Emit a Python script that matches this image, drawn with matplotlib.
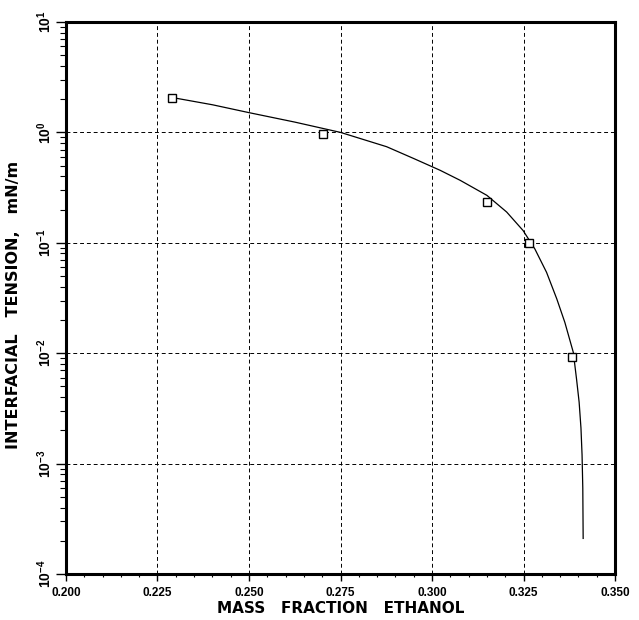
import matplotlib
matplotlib.use("Agg")
import matplotlib.pyplot as plt
from matplotlib.ticker import FixedLocator, FixedFormatter, NullFormatter

# Measured data points
x_pts = [0.229, 0.2702, 0.315, 0.3265, 0.3383]
y_pts = [2.07, 0.96, 0.232, 0.099, 0.0092]

# Fitted curve
x_fit = [0.2290, 0.2400, 0.2500, 0.2625, 0.2750, 0.2876, 0.2950, 0.3022,
         0.3077, 0.3150, 0.3204, 0.3249, 0.3281, 0.3313, 0.3341, 0.3363,
         0.3386, 0.3395, 0.3402, 0.3407, 0.3410, 0.3412, 0.3413]
y_fit = [2.07, 1.78, 1.51, 1.24, 1.0, 0.742, 0.58, 0.454,
         0.368, 0.269, 0.190, 0.129, 0.088, 0.054, 0.031, 0.019,
         0.0102, 0.0058, 0.0036, 0.0021, 0.0012, 0.0006, 0.00021]

x_ticks = [0.200, 0.225, 0.250, 0.275, 0.300, 0.325, 0.350]
x_ticklabels = ["0.200", "0.225", "0.250", "0.275", "0.300", "0.325", "0.350"]
y_ticks = [1e-4, 1e-3, 1e-2, 1e-1, 1e0, 1e1]
y_ticklabels = [r"$\mathregular{10^{-4}}$", r"$\mathregular{10^{-3}}$",
                r"$\mathregular{10^{-2}}$", r"$\mathregular{10^{-1}}$",
                r"$\mathregular{10^{0}}$", r"$\mathregular{10^{1}}$"]
x_label = "MASS   FRACTION   ETHANOL"
y_label = "INTERFACIAL   TENSION,   mN/m"

plt.rcParams["font.family"] = ["Liberation Sans", "DejaVu Sans"]
plt.rcParams["font.weight"] = "bold"

fig = plt.figure(figsize=(6.39, 6.20), dpi=100)
ax = fig.add_axes([66/639, 1-574/620, (615-66)/639, (574-22)/620])

ax.plot(x_fit, y_fit, color="black", lw=0.9, zorder=3)
ax.plot(x_pts, y_pts, ls="none", marker="s", ms=6, mfc="white", mec="black",
        mew=1.0, zorder=4)

ax.set_yscale("log")
ax.set_xlim(0.200, 0.350)
ax.set_ylim(1e-4, 1e1)

ax.xaxis.set_major_locator(FixedLocator(x_ticks))
ax.xaxis.set_major_formatter(FixedFormatter(x_ticklabels))
ax.xaxis.set_minor_locator(FixedLocator([0.200 + 0.005*i for i in range(31)]))
ax.yaxis.set_major_locator(FixedLocator(y_ticks))
ax.yaxis.set_major_formatter(FixedFormatter(y_ticklabels))
minors = [m * 10.0**e for e in range(-4, 1) for m in range(2, 10)]
ax.yaxis.set_minor_locator(FixedLocator(minors))
ax.yaxis.set_minor_formatter(NullFormatter())

ax.grid(True, which="major", color="black", lw=0.7, ls=(0, (4, 3)))
ax.set_axisbelow(True)

for s in ax.spines.values():
    s.set_linewidth(2.2)

ax.tick_params(axis="x", which="major", direction="out", length=5, width=1.0,
               pad=4, top=False, labelsize=8.5)
ax.tick_params(axis="x", which="minor", direction="out", length=2.5, width=0.8,
               top=False)
ax.tick_params(axis="y", which="major", direction="out", length=7, width=1.0,
               pad=2, right=False, labelrotation=90, labelsize=10)
ax.tick_params(axis="y", which="minor", direction="out", length=4, width=0.8,
               right=False)
for lab in ax.get_yticklabels():
    lab.set_verticalalignment("center")

ax.set_xlabel(x_label, fontfamily="DejaVu Sans", fontweight="bold",
              fontsize=11, labelpad=2)
ax.set_ylabel(y_label, fontfamily="DejaVu Sans", fontweight="bold",
              fontsize=11.5)
ax.yaxis.set_label_coords(-0.082, 0.487)

fig.savefig("out.png", dpi=100)
